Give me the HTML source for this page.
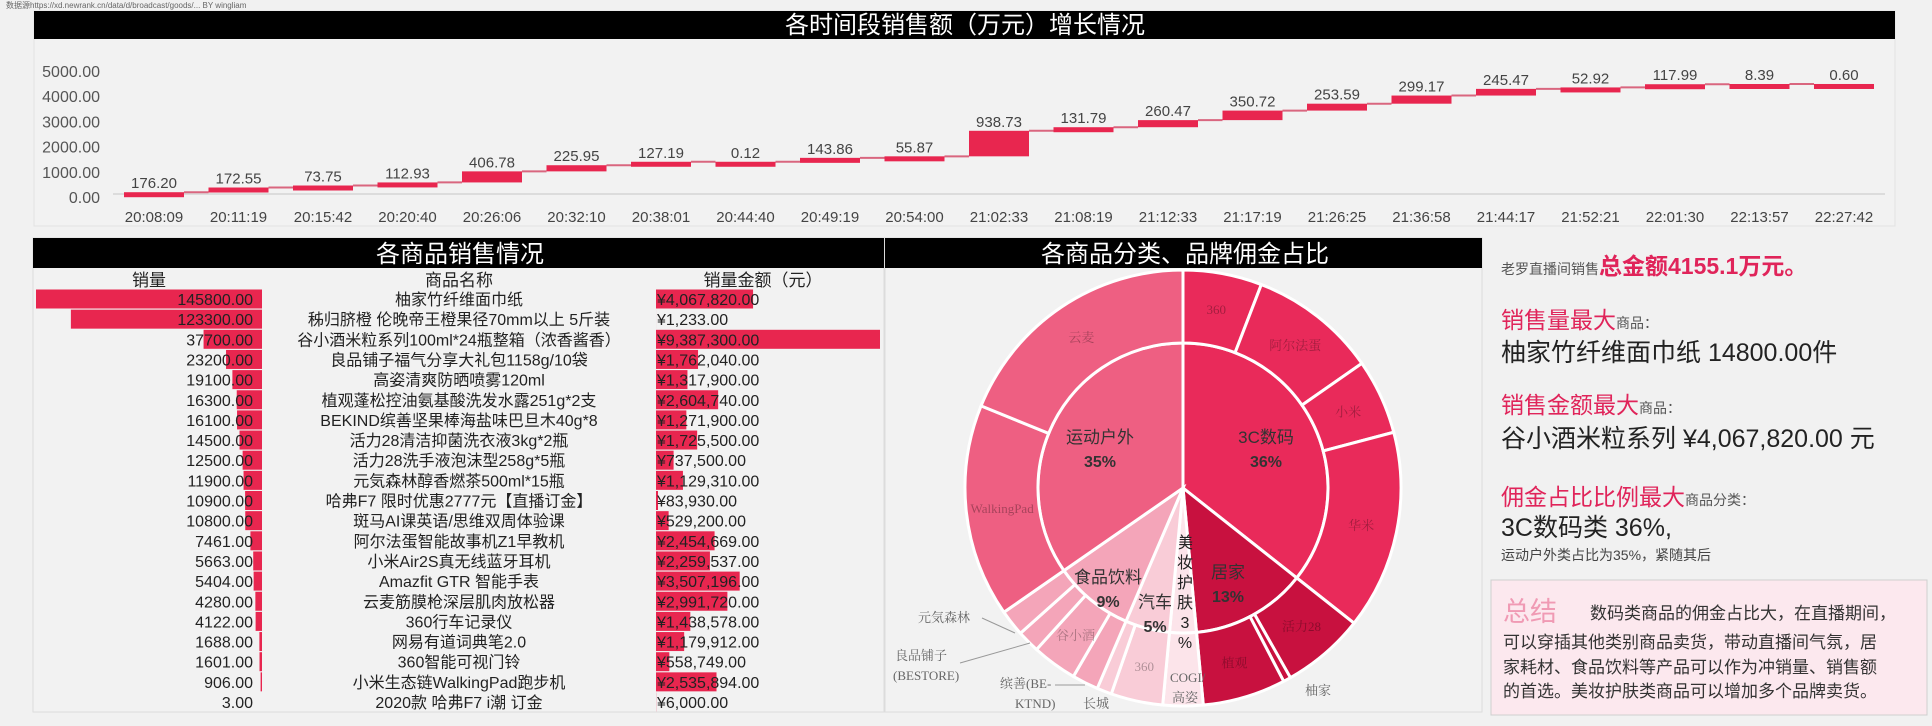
<!DOCTYPE html>
<html><head><meta charset="utf-8">
<style>
html,body{margin:0;padding:0;background:#f1f1f1;}
svg{display:block;font-family:"Liberation Sans","Noto Sans CJK SC",sans-serif;}
.n{font-family:"Liberation Sans Narrow","Liberation Sans","Noto Sans CJK SC",sans-serif;}
</style></head>
<body>
<svg id="root" width="1932" height="726" viewBox="0 0 1932 726" xmlns="http://www.w3.org/2000/svg">
<rect x="0" y="0" width="1932" height="726" fill="#f1f1f1"/>
<text x="6" y="8" font-size="8" fill="#666">数据源https://xd.newrank.cn/data/d/broadcast/goods/... BY wingliam</text>
<rect x="34" y="11" width="1861" height="215" fill="#f2f2f2" stroke="#e2e2e2"/>
<rect x="34" y="11" width="1861" height="28" fill="#000"/>
<text x="965" y="33" font-size="24" fill="#fff" text-anchor="middle">各时间段销售额（万元）增长情况</text>
<line x1="113" y1="194" x2="1885" y2="194" stroke="#dcdcdc" stroke-width="2"/>
<g id="wf"></g>

<rect x="33" y="238" width="851" height="474" fill="#f2f2f2" stroke="#dcdcdc"/>
<rect x="33" y="238" width="851" height="30" fill="#000"/>
<text x="460" y="262" font-size="24" fill="#fff" text-anchor="middle">各商品销售情况</text>
<text x="149" y="286" font-size="17" fill="#222" text-anchor="middle">销量</text>
<text x="459" y="286" font-size="17" fill="#222" text-anchor="middle">商品名称</text>
<text x="763" y="286" font-size="17" fill="#222" text-anchor="middle">销量金额（元）</text>
<g id="tbl"></g>

<rect x="885" y="238" width="597" height="474" fill="#f2f2f2" stroke="#dcdcdc"/>
<rect x="885" y="238" width="597" height="30" fill="#000"/>
<text x="1185" y="262" font-size="24" fill="#fff" text-anchor="middle">各商品分类、品牌佣金占比</text>
<g id="pie"></g>

<g>
<text x="1501" y="274"><tspan font-size="14" fill="#555">老罗直播间销售</tspan><tspan font-size="23" font-weight="bold" fill="#e0245a">总金额4155.1万元。</tspan></text>
<text x="1501" y="328"><tspan font-size="23" fill="#e0245a">销售量最大</tspan><tspan font-size="14" fill="#555">商品：</tspan></text>
<text x="1501" y="361" font-size="25" fill="#222">柚家竹纤维面巾纸  14800.00件</text>
<text x="1501" y="413"><tspan font-size="23" fill="#e0245a">销售金额最大</tspan><tspan font-size="14" fill="#555">商品：</tspan></text>
<text x="1501" y="447" font-size="25" fill="#222">谷小酒米粒系列  ¥4,067,820.00 元</text>
<text x="1501" y="505"><tspan font-size="23" fill="#e0245a">佣金占比比例最大</tspan><tspan font-size="14" fill="#555">商品分类：</tspan></text>
<text x="1501" y="536" font-size="25" fill="#222">3C数码类  36%,</text>
<text x="1501" y="560" font-size="14" fill="#444">运动户外类占比为35%，紧随其后</text>
<rect x="1491" y="580" width="436" height="135" fill="#fce8ee" stroke="#cfcfcf"/>
<text x="1503" y="621" font-size="27" fill="#f09ab4">总结</text>
<text x="1590" y="619" font-size="17" fill="#333">数码类商品的佣金占比大，在直播期间，</text>
<text x="1503" y="648" font-size="17" fill="#333">可以穿插其他类别商品卖货，带动直播间气氛，居</text>
<text x="1503" y="673" font-size="17" fill="#333">家耗材、食品饮料等产品可以作为冲销量、销售额</text>
<text x="1503" y="697" font-size="17" fill="#333">的首选。美妆护肤类商品可以增加多个品牌卖货。</text>
</g>
</svg>
<script>
const NS="http://www.w3.org/2000/svg";
const times=["20:08:09","20:11:19","20:15:42","20:20:40","20:26:06","20:32:10","20:38:01","20:44:40","20:49:19","20:54:00","21:02:33","21:08:19","21:12:33","21:17:19","21:26:25","21:36:58","21:44:17","21:52:21","22:01:30","22:13:57","22:27:42"];
const increments=[176.20,172.55,73.75,112.93,406.78,225.95,127.19,0.12,143.86,55.87,938.73,131.79,260.47,350.72,253.59,299.17,245.47,52.92,117.99,8.39,0.60];
const yTicks=[0,1000,2000,3000,4000,5000];
const products=["柚家竹纤维面巾纸","秭归脐橙 伦晚帝王橙果径70mm以上 5斤装","谷小酒米粒系列100ml*24瓶整箱（浓香酱香）","良品铺子福气分享大礼包1158g/10袋","高姿清爽防晒喷雾120ml","植观蓬松控油氨基酸洗发水露251g*2支","BEKIND缤善坚果棒海盐味巴旦木40g*8","活力28清洁抑菌洗衣液3kg*2瓶","活力28洗手液泡沫型258g*5瓶","元気森林醇香燃茶500ml*15瓶","哈弗F7 限时优惠2777元【直播订金】","斑马AI课英语/思维双周体验课","阿尔法蛋智能故事机Z1早教机","小米Air2S真无线蓝牙耳机","Amazfit GTR 智能手表","云麦筋膜枪深层肌肉放松器","360行车记录仪","网易有道词典笔2.0","360智能可视门铃","小米生态链WalkingPad跑步机","2020款 哈弗F7 i潮 订金"];
const quantities=[145800,123300,37700,23200,19100,16300,16100,14500,12500,11900,10900,10800,7461,5663,5404,4280,4122,1688,1601,906,3];
const amounts=[4067820,1233,9387300,1762040,1317900,2604740,1271900,1725500,737500,1129310,83930,529200,2454669,2259537,3507196,2991720,1438578,1179912,558749,2535894,6000];
const catNames=["3C数码","居家","美妆护肤","汽车","食品饮料","运动户外"];
const catPct=[36,13,3,5,9,35];
const brandNames=[["360","阿尔法蛋","小米","华米"],["活力28","柚家","植观"],["COGI/高姿"],["360","长城"],["缤善","谷小酒","良品铺子","元気森林"],["WalkingPad","云麦"]];
const brandShares=[[21,34,20,53],[22,2,22],[1],[14,4],[7,12,6,7],[57,68]];

function mk(tag,attrs,parent,txt){const e=document.createElementNS(NS,tag);for(const k in attrs)e.setAttribute(k,attrs[k]);if(txt!==undefined)e.textContent=txt;parent.appendChild(e);return e;}

const wf=document.getElementById('wf');
const xW=i=>154+i*84.5;
const yW=v=>197-v*0.0272;
const yTick=v=>197-v*0.0252;
yTicks.forEach(t=>{
  const e=mk('text',{x:100,y:yTick(t)+6,'font-size':16,fill:'#555','text-anchor':'end',class:'n'},wf,t.toFixed(2));
  
  
});
let cum=0;
increments.forEach((v,i)=>{
  const base=cum,top=cum+v;cum=top;
  const x=xW(i);
  const h=Math.max(yW(base)-yW(top),5);
  if(i<increments.length-1){
    const ln=mk('line',{x1:x+30,y1:yW(top),x2:xW(i+1)-30,y2:yW(top),stroke:'#d9667f','stroke-width':2},wf);
    
    
  }
  const r=mk('rect',{x:x-30,y:yW(top),width:60,height:h,fill:'#e8264f'},wf);
  
  
  const l=mk('text',{x:x,y:yW(top)-4,'font-size':15,fill:'#444','text-anchor':'middle',class:'n'},wf,v.toFixed(2));
  
  
  const xl=mk('text',{x:x,y:222,'font-size':15,fill:'#444','text-anchor':'middle',class:'n'},wf,times[i]);
  
  
});

const tbl=document.getElementById('tbl');
const qMax=Math.max(...quantities),aMax=Math.max(...amounts);
const rowY=i=>299+i*20.15;
const fmtMoney=v=>'¥'+v.toLocaleString('en-US',{minimumFractionDigits:2,maximumFractionDigits:2});
products.forEach((p,i)=>{
  const y=rowY(i);
  const qw=quantities[i]/qMax*226;
  const qb=mk('rect',{x:262-qw,y:y-9.5,width:qw,height:19,fill:'#e8264f'},tbl);
  
  
  const qt=mk('text',{x:253,y:y+6,'font-size':16,fill:'#222','text-anchor':'end'},tbl,quantities[i].toFixed(2));
  
  
  const pt=mk('text',{x:459,y:y+6,'font-size':16,fill:'#222','text-anchor':'middle'},tbl,p);
  
  
  const aw=amounts[i]/aMax*224;
  const ab=mk('rect',{x:656,y:y-9.5,width:aw,height:19,fill:'#e8264f'},tbl);
  
  
  const at=mk('text',{x:657,y:y+6,'font-size':16,fill:'#222'},tbl,fmtMoney(amounts[i]));
  
  
});

const pie=document.getElementById('pie');
const cx=1183,cy=488,rIn=145,rOut=218;
const catColors=["#e92a5a","#c8113f","#fce4ea","#f9ccd7","#f4a5b9","#ee5f82"];
const pt=(r,a)=>[cx+r*Math.sin(a*Math.PI/180),cy-r*Math.cos(a*Math.PI/180)];
function arcPath(r0,r1,a0,a1){
  const large=(a1-a0)>180?1:0;
  const p1=pt(r1,a0),p2=pt(r1,a1);
  if(r0===0){return `M${cx},${cy}L${p1[0]},${p1[1]}A${r1},${r1} 0 ${large} 1 ${p2[0]},${p2[1]}Z`;}
  const p3=pt(r0,a1),p4=pt(r0,a0);
  return `M${p1[0]},${p1[1]}A${r1},${r1} 0 ${large} 1 ${p2[0]},${p2[1]}L${p3[0]},${p3[1]}A${r0},${r0} 0 ${large} 0 ${p4[0]},${p4[1]}Z`;
}
const tot=catPct.reduce((a,b)=>a+b,0);
let a=0;
const catLabelPos=[[1266,443],[1228,578],[1185,548],[1155,608],[1108,583],[1100,443]];
catPct.forEach((c,i)=>{
  const a0=a,a1=a+c/tot*360;a=a1;
  const s=mk('path',{d:arcPath(0,rIn,a0,a1),fill:catColors[i],stroke:'#fff','stroke-width':3},pie);
  
  
  const bs=brandShares[i],bsum=bs.reduce((x,y)=>x+y,0);
  let b=a0;
  bs.forEach((v,j)=>{
    const b0=b,b1=b+v/bsum*(a1-a0);b=b1;
    const o=mk('path',{d:arcPath(rIn,rOut,b0,b1),fill:catColors[i],stroke:'#fff','stroke-width':3},pie);
    
    
    if((b1-b0)>8 && i!==2){
      const m=pt(182,(b0+b1)/2);
      const t=mk('text',{x:m[0],y:m[1]+5,'font-size':13,fill:'rgba(0,0,0,0.3)','text-anchor':'middle','font-family':'Liberation Serif, Noto Serif CJK SC, serif'},pie,brandNames[i][j]);
      
      
    }
  });
  const [lx,ly]=catLabelPos[i];
  if(i===2){
    const chars=["美","妆","护","肤","3","%"];
    chars.forEach((ch,k)=>{
      const t=mk('text',{x:lx,y:ly+k*20,'font-size':16,fill:'#222','text-anchor':'middle'},pie,ch);
      
      
    });
  } else {
    const t=mk('text',{x:lx,y:ly,'font-size':17,fill:'#333','text-anchor':'middle'},pie,catNames[i]);
    
    
    const t2=mk('text',{x:lx,y:ly+24,'font-size':16,'font-weight':'bold',fill:'#333','text-anchor':'middle'},pie,Math.round(c)+'%');
    
    
  }
});
const callouts=[["元気森林",918,622,[[982,618],[1015,633]]],["良品铺子",895,660,[[960,663],[1030,643]]],["(BESTORE)",893,680,null],["缤善(BE-",1000,688,[[1055,685],[1085,685]]],["KTND)",1015,708,null],["长城",1083,708,null],["柚家",1305,695,null],["COGI/",1170,682,null],["高姿",1172,702,null]];
callouts.forEach(c=>{
  const t=mk('text',{x:c[1],y:c[2],'font-size':13,fill:'#666','font-family':'Liberation Serif, Noto Serif CJK SC, serif'},pie,c[0]);
  
  
  if(c[3]){
    const l=mk('polyline',{points:c[3].map(p=>p.join(',')).join(' '),fill:'none',stroke:'#999','stroke-width':1},pie);
    
    
  }
});
</script>
</body></html>
